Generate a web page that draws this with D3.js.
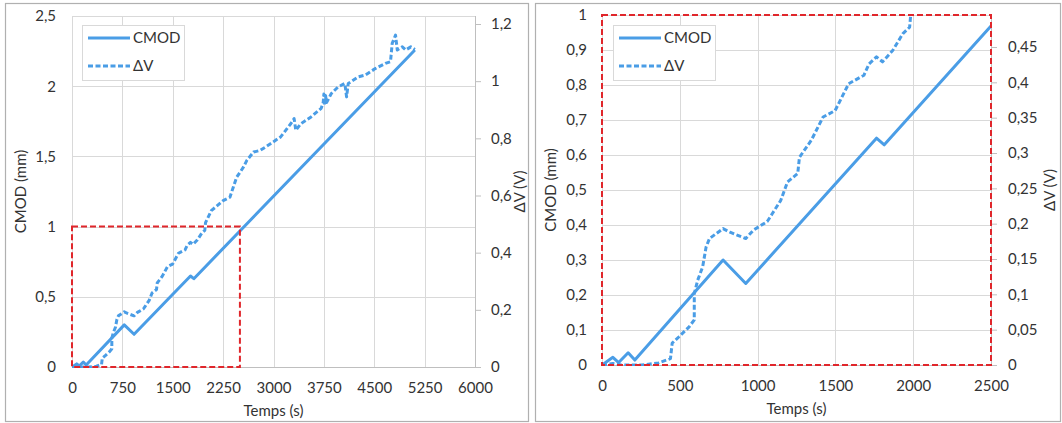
<!DOCTYPE html>
<html>
<head>
<meta charset="utf-8">
<script src="https://cdn.jsdelivr.net/npm/d3@7"></script>
<style>
  html, body { margin: 0; padding: 0; background: #fff; }
  svg text { font-family: Lato, "Open Sans", sans-serif; fill: #333; }
</style>
</head>
<body>
<svg id="chart" width="1062" height="423"></svg>
<script>
// ---- data ----
const cmodTime  = [0, 70, 107, 168, 211, 778, 924, 1764, 1814, 5105];
const cmodValue = [0, 0.022, 0.007, 0.035, 0.014, 0.300, 0.233, 0.648, 0.629, 2.258];

const dvTime  = [0, 70, 124, 255, 364, 440, 451, 495, 560, 593, 593, 615, 647, 669, 691, 778, 822, 924, 974, 1062, 1094, 1149, 1192, 1258, 1269, 1345, 1421, 1498, 1585, 1683, 1716, 1764, 1803, 1868, 1934, 1977, 1988,
                 2074, 2250, 2351, 2401, 2452, 2552, 2603, 2703, 2804, 2955, 3106, 3257, 3307, 3332, 3408, 3559, 3710, 3740, 3750, 3760, 3775, 3790, 3861, 3962, 4062, 4088, 4113, 4264, 4364, 4515, 4666, 4742, 4767, 4817, 4843, 4918, 4968, 5044, 5105];
const dvValue = [0, 0.002, 0, 0, 0.003, 0.009, 0.031, 0.040, 0.054, 0.064, 0.101, 0.120, 0.139, 0.167, 0.179, 0.193, 0.188, 0.179, 0.191, 0.203, 0.214, 0.233, 0.259, 0.271, 0.294, 0.318, 0.351, 0.360, 0.398, 0.410, 0.426, 0.436, 0.429, 0.445, 0.469, 0.478, 0.505,
                 0.547, 0.582, 0.594, 0.629, 0.664, 0.699, 0.723, 0.752, 0.758, 0.781, 0.805, 0.851, 0.869, 0.828, 0.851, 0.875, 0.905, 0.925, 0.955, 0.915, 0.950, 0.925, 0.957, 0.980, 0.992, 0.945, 0.992, 1.015, 1.021, 1.044, 1.062, 1.068, 1.132, 1.161, 1.109, 1.120, 1.109, 1.120, 1.111];

const leftXTicks  = [0, 750, 1500, 2250, 3000, 3750, 4500, 5250, 6000];
const leftYTicks  = [0, 0.5, 1, 1.5, 2, 2.5];
const leftY2Ticks = [0, 0.2, 0.4, 0.6, 0.8, 1, 1.2];
const rightXTicks  = [0, 500, 1000, 1500, 2000, 2500];
const rightYTicks  = [0, 0.1, 0.2, 0.3, 0.4, 0.5, 0.6, 0.7, 0.8, 0.9, 1];
const rightY2Ticks = [0, 0.05, 0.1, 0.15, 0.2, 0.25, 0.3, 0.35, 0.4, 0.45];

const legendLabels = ["CMOD", "ΔV"];
const xTitle = "Temps (s)", yTitle = "CMOD (mm)", y2Title = "ΔV (V)";

const BLUE = "#4a9de6";
const RED = "#e0262b";
const GRID = "#d9d9d9";
const FS = 15;

const loc = d3.formatLocale({decimal: ",", thousands: "", grouping: [3], currency: ["", ""]});
const fmt = loc.format("~f");

const svg = d3.select("#chart");

const cmodData = cmodTime.map((t, i) => ({t, v: cmodValue[i]}));
const dvData = dvTime.map((t, i) => ({t, v: dvValue[i]}));

function drawChart(cfg) {
  const g = svg.append("g");
  // frame
  g.append("rect").attr("x", cfg.frame[0] + 0.5).attr("y", cfg.frame[1] + 0.5)
    .attr("width", cfg.frame[2] - cfg.frame[0]).attr("height", cfg.frame[3] - cfg.frame[1])
    .attr("fill", "#fff").attr("stroke", "#b0b0b0").attr("stroke-width", 1.2);

  const x = d3.scaleLinear().domain(cfg.xDomain).range([cfg.left, cfg.right]);
  const y = d3.scaleLinear().domain(cfg.yDomain).range([cfg.bottom, cfg.top]);
  const y2 = d3.scaleLinear().domain(cfg.y2Domain).range([cfg.bottom, cfg.top]);

  // gridlines
  g.append("g").selectAll("line").data(cfg.xTicks).join("line")
    .attr("x1", d => Math.round(x(d)) + 0.5).attr("x2", d => Math.round(x(d)) + 0.5)
    .attr("y1", cfg.top).attr("y2", cfg.bottom).attr("stroke", GRID).attr("stroke-width", 1);
  g.append("g").selectAll("line").data(cfg.yTicks).join("line")
    .attr("x1", cfg.left).attr("x2", cfg.right)
    .attr("y1", d => Math.round(y(d)) + 0.5).attr("y2", d => Math.round(y(d)) + 0.5)
    .attr("stroke", GRID).attr("stroke-width", 1);

  // bottom axis line
  g.append("line").attr("x1", cfg.left).attr("x2", cfg.right)
    .attr("y1", cfg.bottom + 0.5).attr("y2", cfg.bottom + 0.5).attr("stroke", "#bfbfbf");

  // x axis labels
  const xAxis = d3.axisBottom(x).tickValues(cfg.xTicks).tickFormat(fmt).tickSize(0).tickPadding(15);
  const gx = g.append("g").attr("transform", `translate(0,${cfg.bottom})`).call(xAxis);
  gx.select(".domain").remove();
  gx.selectAll("text").attr("font-size", FS).style("font-family", "Lato, sans-serif").attr("fill", "#333");

  // left y axis labels
  const yAxis = d3.axisLeft(y).tickValues(cfg.yTicks).tickFormat(fmt).tickSize(0).tickPadding(cfg.left - cfg.yLabelX);
  const gy = g.append("g").attr("transform", `translate(${cfg.left},0)`).call(yAxis);
  gy.select(".domain").remove();
  gy.selectAll("text").attr("font-size", FS).style("font-family", "Lato, sans-serif").attr("fill", "#333");

  // right y axis
  const y2Axis = d3.axisRight(y2).tickValues(cfg.y2Ticks).tickFormat(fmt).tickSize(6).tickPadding(cfg.y2LabelX - cfg.right - 6);
  const gy2 = g.append("g").attr("transform", `translate(${cfg.right},0)`).call(y2Axis);
  gy2.select(".domain").attr("stroke", "#bfbfbf").attr("d", `M0.5,${cfg.top}V${cfg.bottom}`);
  gy2.selectAll(".tick line").attr("stroke", "#bfbfbf");
  gy2.selectAll("text").attr("font-size", FS).style("font-family", "Lato, sans-serif").attr("fill", "#333");

  // titles
  g.append("text").attr("x", (cfg.left + cfg.right) / 2).attr("y", cfg.bottom + 49)
    .attr("text-anchor", "middle").attr("font-size", FS).text(xTitle);
  g.append("text").attr("transform", `translate(${cfg.yTitleX},${(cfg.top + cfg.bottom) / 2}) rotate(-90)`)
    .attr("text-anchor", "middle").attr("dy", "0.35em").attr("font-size", FS).text(yTitle);
  g.append("text").attr("transform", `translate(${cfg.y2TitleX},${(cfg.top + cfg.bottom) / 2}) rotate(-90)`)
    .attr("text-anchor", "middle").attr("dy", "0.35em").attr("font-size", FS).text(y2Title);

  // clip
  const clipId = "clip" + cfg.id;
  svg.append("defs").append("clipPath").attr("id", clipId).append("rect")
    .attr("x", cfg.left).attr("y", cfg.top - 1).attr("width", cfg.right - cfg.left).attr("height", cfg.bottom - cfg.top + 2);
  const plot = g.append("g").attr("clip-path", `url(#${clipId})`);

  const lineC = d3.line().x(d => x(d.t)).y(d => y(d.v));
  const lineV = d3.line().x(d => x(d.t)).y(d => y2(d.v));

  plot.append("path").datum(dvData).attr("d", lineV).attr("fill", "none")
    .attr("stroke", BLUE).attr("stroke-width", 3).attr("stroke-dasharray", "5,2.5").attr("stroke-linejoin", "round");
  plot.append("path").datum(cmodData).attr("d", lineC).attr("fill", "none")
    .attr("stroke", BLUE).attr("stroke-width", 3).attr("stroke-linejoin", "round");

  // red dashed box
  const b = cfg.box;
  g.append("rect").attr("x", x(b[0])).attr("y", y(b[3]))
    .attr("width", x(b[2]) - x(b[0])).attr("height", y(b[1]) - y(b[3]))
    .attr("fill", "none").attr("stroke", RED).attr("stroke-width", 2).attr("stroke-dasharray", "6,3");

  // legend
  const lx = cfg.legend[0], ly = cfg.legend[1];
  const lg = g.append("g");
  lg.append("rect").attr("x", lx + 0.5).attr("y", ly + 0.5).attr("width", 102).attr("height", 55)
    .attr("fill", "#fff").attr("stroke", "#d9d9d9");
  const items = lg.selectAll("g.item").data(legendLabels).join("g")
    .attr("transform", (d, i) => `translate(${lx + 6},${ly + 13 + i * 28})`);
  items.append("line").attr("x1", 0).attr("x2", 42).attr("y1", 0).attr("y2", 0)
    .attr("stroke", BLUE).attr("stroke-width", 3)
    .attr("stroke-dasharray", (d, i) => i === 1 ? "5,2.5" : null);
  items.append("text").attr("x", 45).attr("dy", "0.35em").attr("font-size", FS).text(d => d);
}

drawChart({
  id: "L", frame: [5, 3, 528, 421],
  left: 72, right: 475, top: 16, bottom: 367,
  xDomain: [0, 6000], yDomain: [0, 2.5], y2Domain: [0, 1.2 * 351 / 343],
  xTicks: leftXTicks, yTicks: leftYTicks, y2Ticks: leftY2Ticks,
  yLabelX: 56, y2LabelX: 491, yTitleX: 21, y2TitleX: 520,
  box: [0, 0, 2500, 1], legend: [82, 25]
});

drawChart({
  id: "R", frame: [535, 3, 1060, 421],
  left: 602, right: 991, top: 15, bottom: 365,
  xDomain: [0, 2500], yDomain: [0, 1], y2Domain: [0, 0.45 * 350 / 318],
  xTicks: rightXTicks, yTicks: rightYTicks, y2Ticks: rightY2Ticks,
  yLabelX: 587, y2LabelX: 1008, yTitleX: 551, y2TitleX: 1050,
  box: [0, 0, 2500, 1], legend: [613, 25]
});
</script>
</body>
</html>
